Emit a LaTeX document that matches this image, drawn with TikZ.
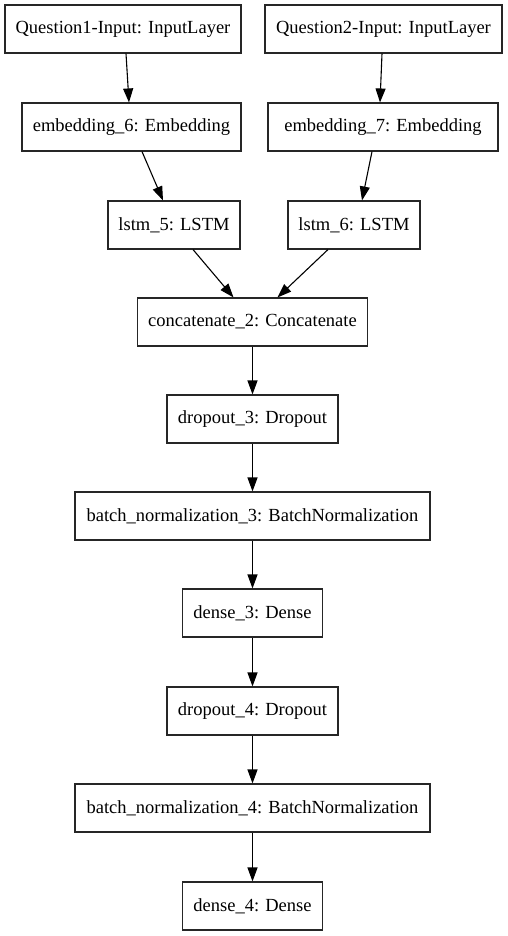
\documentclass[tikz,border=0pt]{standalone}
\usepackage{fontspec}
\setmainfont{Liberation Serif}
\usetikzlibrary{arrows.meta}
\begin{document}
\begin{tikzpicture}[x=1pt,y=-1pt,
  layer/.style={draw=black!85, line width=1.1pt, rectangle, inner sep=0pt,
    minimum height=48pt, font=\fontsize{18.5pt}{22pt}\selectfont, anchor=center},
  conn/.style={line width=1.1pt, -{Triangle[length=14pt,width=10pt]}}]
\useasboundingbox (0,0) rectangle (507,936);
\node[layer, minimum width=236pt] (q1) at (123,29) {Question1-Input: InputLayer};
\node[layer, minimum width=237pt] (q2) at (383.5,29) {Question2-Input: InputLayer};
\node[layer, minimum width=219pt] (e6) at (131.5,127) {embedding\_6: Embedding};
\node[layer, minimum width=230pt] (e7) at (383,127) {embedding\_7: Embedding};
\node[layer, minimum width=132pt] (l5) at (174,225) {lstm\_5: LSTM};
\node[layer, minimum width=132pt] (l6) at (354,225) {lstm\_6: LSTM};
\node[layer, minimum width=230pt] (c2) at (252.5,322) {concatenate\_2: Concatenate};
\node[layer, minimum width=171pt] (d3) at (252.5,419) {dropout\_3: Dropout};
\node[layer, minimum width=355pt] (b3) at (252.5,516) {batch\_normalization\_3: BatchNormalization};
\node[layer, minimum width=140pt] (n3) at (252.5,613) {dense\_3: Dense};
\node[layer, minimum width=171pt] (d4) at (252.5,711) {dropout\_4: Dropout};
\node[layer, minimum width=355pt] (b4) at (252.5,808) {batch\_normalization\_4: BatchNormalization};
\node[layer, minimum width=140pt] (n4) at (252.5,906) {dense\_4: Dense};
\draw[conn] ([xshift=3pt]q1.south) -- ([xshift=-2.5pt]e6.north);
\draw[conn] ([xshift=-1.5pt]q2.south) -- ([xshift=-3pt]e7.north);
\draw[conn] ([xshift=10.5pt]e6.south) -- ([xshift=-11pt]l5.north);
\draw[conn] ([xshift=-11pt]e7.south) -- ([xshift=8pt]l6.north);
\draw[conn] ([xshift=19pt]l5.south) -- ([xshift=-19pt]c2.north);
\draw[conn] ([xshift=-26pt]l6.south) -- ([xshift=25pt]c2.north);
\draw[conn] (c2.south) -- (c2.south |- d3.north);
\draw[conn] (d3.south) -- (d3.south |- b3.north);
\draw[conn] (b3.south) -- (b3.south |- n3.north);
\draw[conn] (n3.south) -- (n3.south |- d4.north);
\draw[conn] (d4.south) -- (d4.south |- b4.north);
\draw[conn] (b4.south) -- (b4.south |- n4.north);
\end{tikzpicture}
\end{document}
